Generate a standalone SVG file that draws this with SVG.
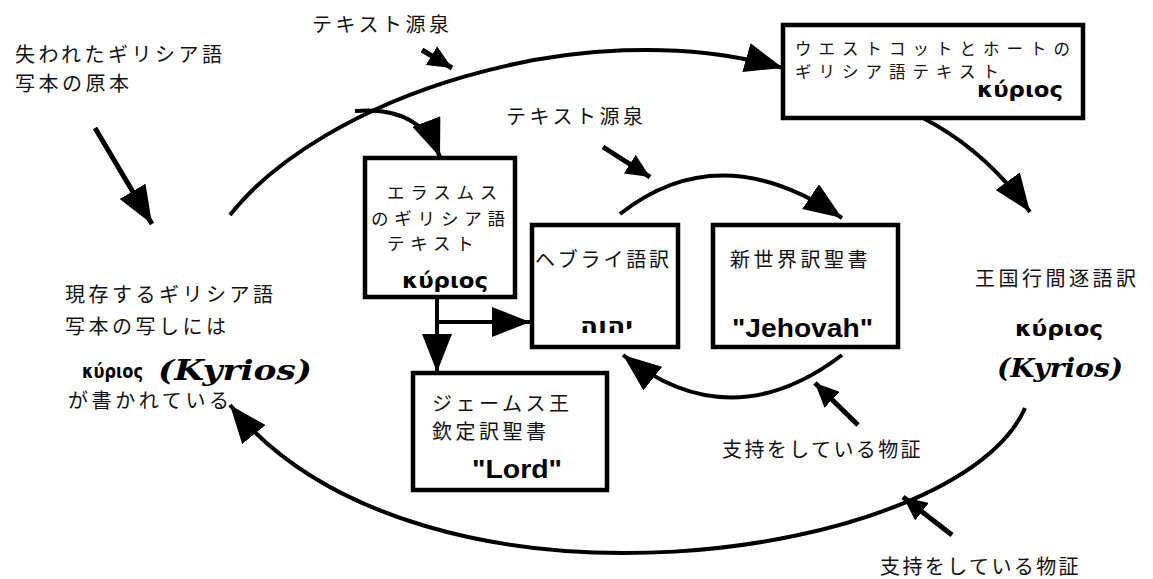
<svg xmlns="http://www.w3.org/2000/svg" width="1153" height="579" viewBox="0 0 1153 579">
<style>
.jp{font-family:"Noto Sans CJK JP","Noto Sans CJK SC",sans-serif;font-size:20px;letter-spacing:3.5px;fill:#111}
.jp2{font-family:"Noto Sans CJK JP","Noto Sans CJK SC",sans-serif;font-size:20px;letter-spacing:2.4px;fill:#111}
.jpb{font-family:"Noto Sans CJK JP","Noto Sans CJK SC",sans-serif;font-size:16.5px;letter-spacing:7px;fill:#111}
.jpe{font-family:"Noto Sans CJK JP","Noto Sans CJK SC",sans-serif;font-size:17.5px;letter-spacing:5.8px;fill:#111}
.gr{font-family:"DejaVu Sans",sans-serif;font-weight:bold;font-size:22px;fill:#000}
.ky{font-family:"DejaVu Serif",serif;font-weight:bold;font-style:italic;font-size:24px;fill:#000}
.en{font-family:"Liberation Sans",Arial,sans-serif;font-weight:bold;font-size:26px;fill:#000}
.he{font-family:"DejaVu Sans",sans-serif;font-weight:bold;font-size:22px;fill:#000}
.box{fill:#fff;stroke:#000;stroke-width:4.5}
.c{fill:none;stroke:#000;stroke-width:4}
.p{fill:none;stroke:#000;stroke-width:5}
</style>
<defs>
<marker id="big" markerUnits="userSpaceOnUse" markerWidth="40" markerHeight="30" viewBox="0 0 40 30" refX="38" refY="15" orient="auto"><path d="M0,0 L38,15 L0,30 z" fill="#000"/></marker>
<marker id="sm" markerUnits="userSpaceOnUse" markerWidth="26" markerHeight="22" viewBox="0 0 26 22" refX="24" refY="11" orient="auto"><path d="M0,0 L24,11 L0,22 z" fill="#000"/></marker>
</defs>
<g id="connectors">
<path class="c" d="M230,215 C320,100 580,10 783,68" marker-end="url(#big)"/>
<path class="c" d="M355,111 Q420,105 440,157" marker-end="url(#big)"/>
<path class="c" d="M923,118 Q985,150 1030,212" marker-end="url(#big)"/>
<path class="c" d="M437,297 L437,372" marker-end="url(#big)"/>
<path class="c" d="M437,322 L530,322" marker-end="url(#big)"/>
<path class="c" d="M620,214 Q720,135 842,218" marker-end="url(#big)"/>
<path class="c" d="M842,355 Q730,440 623,355" marker-end="url(#big)"/>
<path class="c" d="M1025,408 C960,560 420,640 230,405" marker-end="url(#big)"/>
<path class="p" d="M95,128 L152,224" marker-end="url(#big)"/>
<path class="p" d="M422,50 L452,68" marker-end="url(#sm)"/>
<path class="p" d="M603,147 L650,177" marker-end="url(#sm)"/>
<path class="p" d="M858,425 L815,383" marker-end="url(#sm)"/>
<path class="p" d="M952,535 L903,497" marker-end="url(#sm)"/>
</g>
<g id="lost-original">
<text class="jp" x="15" y="62">失われたギリシア語</text>
<text class="jp" x="15" y="91">写本の原本</text>
</g>
<g id="source-label-1"><text class="jp" x="312" y="32">テキスト源泉</text></g>
<g id="source-label-2"><text class="jp" x="506" y="124">テキスト源泉</text></g>
<g id="westcott-hort">
<rect class="box" x="783" y="25" width="300" height="93"/>
<text class="jpb" x="795" y="55">ウエストコットとホートの</text>
<text class="jpb" x="795" y="78">ギリシア語テキスト</text>
<text class="gr" x="977" y="97" textLength="86" lengthAdjust="spacingAndGlyphs">κύριος</text>
</g>
<g id="erasmus">
<rect class="box" x="365" y="158" width="150" height="139"/>
<text class="jpe" x="387" y="199">エラスムス</text>
<text class="jpe" x="371" y="225">のギリシア語</text>
<text class="jpe" x="387" y="250">テキスト</text>
<text class="gr" x="402" y="288" textLength="86" lengthAdjust="spacingAndGlyphs">κύριος</text>
</g>
<g id="hebrew">
<rect class="box" x="532" y="225" width="146" height="122"/>
<text class="jp" x="535" y="267" style="letter-spacing:2.8px">ヘブライ語訳</text>
<text class="he" x="580" y="333" textLength="53" lengthAdjust="spacingAndGlyphs">יהוה</text>
</g>
<g id="nwt">
<rect class="box" x="713" y="225" width="185" height="122"/>
<text class="jp" x="730" y="267">新世界訳聖書</text>
<text class="en" x="732" y="337" textLength="141" lengthAdjust="spacingAndGlyphs">"Jehovah"</text>
</g>
<g id="king-james">
<rect class="box" x="413" y="373" width="194" height="117"/>
<text class="jp" x="432" y="411">ジェームス王</text>
<text class="jp" x="432" y="439">欽定訳聖書</text>
<text class="en" x="472" y="478" textLength="90" lengthAdjust="spacingAndGlyphs">"Lord"</text>
</g>
<g id="extant-copies">
<text class="jp" x="65" y="302">現存するギリシア語</text>
<text class="jp" x="65" y="334">写本の写しには</text>
<text class="gr" x="82" y="378" textLength="61" lengthAdjust="spacingAndGlyphs" style="font-size:19px">κύριος</text>
<text class="ky" x="158" y="380" textLength="154" lengthAdjust="spacingAndGlyphs" style="font-size:27px">(Kyrios)</text>
<text class="jp" x="68" y="408" style="letter-spacing:3.6px">が書かれている</text>
</g>
<g id="kingdom-interlinear">
<text class="jp" x="975" y="286">王国行間逐語訳</text>
<text class="gr" x="1015" y="336" textLength="88" lengthAdjust="spacingAndGlyphs">κύριος</text>
<text class="ky" x="997" y="377" textLength="126" lengthAdjust="spacingAndGlyphs" style="font-size:26px">(Kyrios)</text>
</g>
<g id="evidence-1"><text class="jp2" x="722" y="457">支持をしている物証</text></g>
<g id="evidence-2"><text class="jp2" x="880" y="574">支持をしている物証</text></g>
</svg>
